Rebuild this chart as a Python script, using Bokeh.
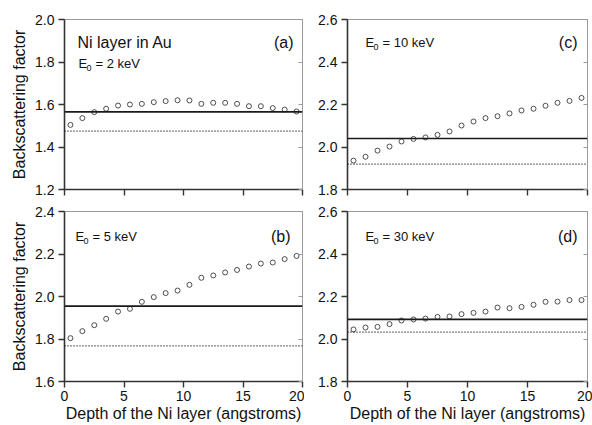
from bokeh.plotting import figure
from bokeh.models import Label, Span, LinearAxis, FixedTicker, Range1d, PrintfTickFormatter
from bokeh.layouts import column, row
from bokeh.embed import file_html
from bokeh.resources import INLINE

# ---------------- data ----------------
depth = [0.5, 1.5, 2.5, 3.5, 4.5, 5.5, 6.5, 7.5, 8.5, 9.5,
         10.5, 11.5, 12.5, 13.5, 14.5, 15.5, 16.5, 17.5, 18.5, 19.5]

bf_2keV = [1.504, 1.536, 1.564, 1.580, 1.595, 1.600, 1.603, 1.611, 1.616, 1.620,
           1.619, 1.603, 1.608, 1.608, 1.603, 1.592, 1.592, 1.583, 1.576, 1.567]
bf_5keV = [1.804, 1.837, 1.865, 1.895, 1.929, 1.942, 1.975, 1.997, 2.016, 2.028,
           2.055, 2.088, 2.099, 2.113, 2.125, 2.141, 2.155, 2.160, 2.176, 2.191]
bf_10keV = [1.936, 1.954, 1.983, 2.002, 2.026, 2.038, 2.045, 2.057, 2.073, 2.101,
            2.120, 2.136, 2.145, 2.158, 2.172, 2.180, 2.194, 2.208, 2.217, 2.231]
bf_30keV = [2.045, 2.054, 2.057, 2.070, 2.087, 2.092, 2.096, 2.104, 2.106, 2.117,
            2.123, 2.129, 2.148, 2.145, 2.151, 2.161, 2.175, 2.176, 2.183, 2.183]

solid_level = {"a": 1.565, "b": 1.955, "c": 2.040, "d": 2.092}
dotted_level = {"a": 1.475, "b": 1.768, "c": 1.919, "d": 2.032}

x_ticks = [0, 5, 10, 15, 20]
yticks_a = [1.2, 1.4, 1.6, 1.8, 2.0]
yticks_b = [1.6, 1.8, 2.0, 2.2, 2.4]
yticks_c = [1.8, 2.0, 2.2, 2.4, 2.6]
yticks_d = [1.8, 2.0, 2.2, 2.4, 2.6]

energies = {"a": "2", "b": "5", "c": "10", "d": "30"}

FONT = "Liberation Sans"
FH = 170


def make_panel(key, yvals, yticks, fw, left, right, top, bottom, xlabel, ylabel):
    lo, hi = yticks[0], yticks[-1]
    p = figure(frame_width=fw, frame_height=FH,
               x_range=Range1d(0, 20), y_range=Range1d(lo, hi),
               output_backend="svg", toolbar_location=None,
               min_border_left=left, min_border_right=right,
               min_border_top=top, min_border_bottom=bottom)
    p.grid.visible = False
    p.outline_line_color = "#9a9a9a"
    p.outline_line_width = 1
    p.background_fill_color = "white"
    p.border_fill_color = "white"

    for ax, ticks in ((p.xaxis[0], x_ticks), (p.yaxis[0], yticks)):
        ax.ticker = FixedTicker(ticks=ticks, minor_ticks=[])
        ax.axis_line_color = "#333333"
        ax.axis_line_width = 1.6
        ax.major_tick_line_color = "#333333"
        ax.major_tick_line_width = 1.4
        ax.major_tick_in = 0
        ax.major_tick_out = 6
        ax.minor_tick_line_color = None
        ax.major_label_text_font = FONT
        ax.major_label_text_font_size = "14px"
        ax.major_label_text_color = "#111111"
        ax.axis_label_text_font = FONT
        ax.axis_label_text_font_size = "16px"
        ax.axis_label_text_font_style = "normal"
        ax.axis_label_text_color = "#111111"
    p.yaxis[0].formatter = PrintfTickFormatter(format="%.1f")
    p.yaxis[0].major_label_standoff = 4
    p.yaxis[0].axis_label_standoff = 4
    if ylabel:
        p.yaxis[0].axis_label = ylabel
    if xlabel:
        p.xaxis[0].axis_label = xlabel
        p.xaxis[0].major_label_standoff = 3
        p.xaxis[0].axis_label_standoff = 1
    else:
        # ticks only, no tick labels
        p.xaxis[0].major_label_overrides = {t: "" for t in x_ticks}
        p.xaxis[0].major_label_text_font_size = "2px"
        p.xaxis[0].major_label_standoff = 0

    rax = LinearAxis(ticker=FixedTicker(ticks=yticks, minor_ticks=[]))
    rax.axis_line_color = "#9a9a9a"
    rax.major_tick_line_color = "#9a9a9a"
    rax.major_tick_in = 4
    rax.major_tick_out = 0
    rax.minor_tick_line_color = None
    rax.major_label_overrides = {t: "" for t in yticks}
    rax.major_label_text_font_size = "2px"
    rax.major_label_standoff = 0
    p.add_layout(rax, "right")

    p.add_layout(Span(location=solid_level[key], dimension="width",
                      line_color="#1a1a1a", line_width=1.7))
    p.add_layout(Span(location=dotted_level[key], dimension="width",
                      line_color="#000000", line_width=1.2, line_dash="1 2"))

    p.scatter(depth, yvals, marker="circle", size=5, fill_color=None,
              line_color="#3a3a3a", line_width=0.9)

    def px(dx, dy):
        return dx / fw * 20.0, hi - dy / FH * (hi - lo)

    return p, px


def add_text(p, px, dx, dy, txt, size, align="left"):
    x, y = px(dx, dy)
    p.add_layout(Label(x=x, y=y, text=txt, text_font=FONT, text_font_size=size,
                       text_align=align, text_baseline="alphabetic",
                       text_color="#111111"))


def add_energy(p, px, key, dx, dy):
    add_text(p, px, dx, dy, "E", "13px")
    add_text(p, px, dx + 8, dy + 4, "0", "9px")
    add_text(p, px, dx + 17, dy, "= " + energies[key] + " keV", "13px")


XLAB = "Depth of the Ni layer (angstroms)"
YLAB = "Backscattering factor"

pa, pxa = make_panel("a", bf_2keV, yticks_a, 238, 64, 2, 19, 12, None, YLAB)
add_text(pa, pxa, 13, 23, "Ni layer in Au", "16px")
add_text(pa, pxa, 238 - 9, 23, "(a)", "16px", "right")
add_energy(pa, pxa, "a", 14, 44)

pc, pxc = make_panel("c", bf_10keV, yticks_c, 240, 43, 5, 19, 12, None, None)
add_text(pc, pxc, 240 - 10, 23, "(c)", "16px", "right")
add_energy(pc, pxc, "c", 18, 23)

pb, pxb = make_panel("b", bf_5keV, yticks_b, 238, 64, 2, 10, 44, XLAB, YLAB)
add_text(pb, pxb, 238 - 12, 25, "(b)", "16px", "right")
add_energy(pb, pxb, "b", 11, 25)

pd, pxd = make_panel("d", bf_30keV, yticks_d, 240, 43, 5, 10, 44, XLAB, None)
add_text(pd, pxd, 240 - 10, 25, "(d)", "16px", "right")
add_energy(pd, pxd, "d", 18, 25)

layout = column(row(pa, pc, spacing=0), row(pb, pd, spacing=0), spacing=0)

open("out.html", "w").write(file_html(layout, INLINE))
